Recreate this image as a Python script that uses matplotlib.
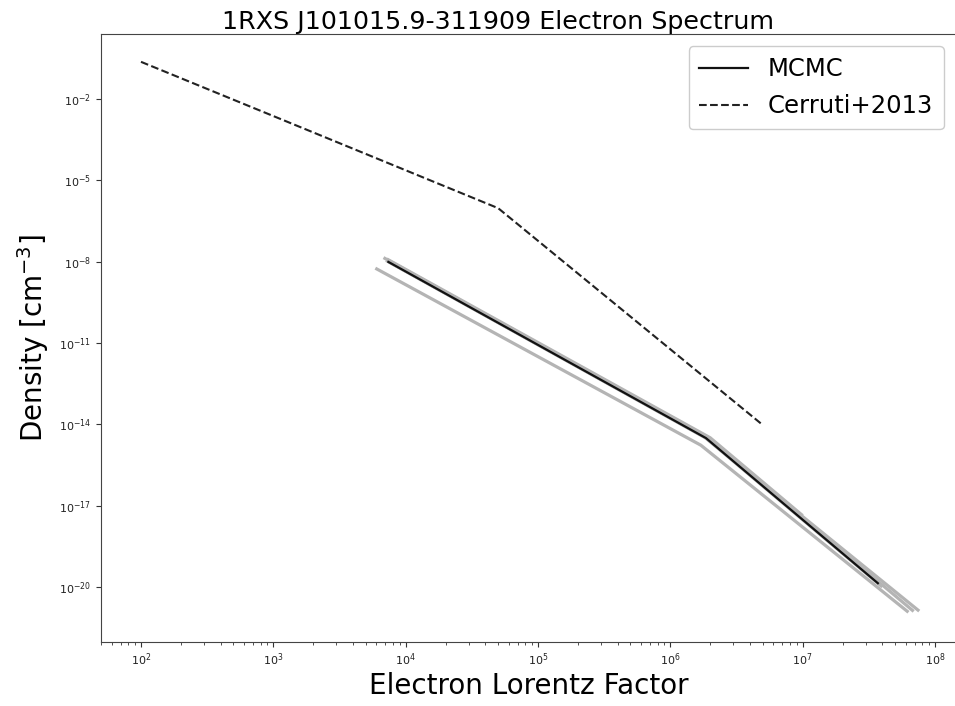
import numpy as np
import matplotlib
matplotlib.use("Agg")
import matplotlib.pyplot as plt
from matplotlib.ticker import LogLocator, NullLocator, FixedLocator

# Cerruti+2013 broken power law (gamma, density)
cerruti_gamma = [1e2, 5e4, 5e6]
cerruti_density = [0.235, 9.4e-7, 9.4e-15]

# MCMC best / median (gamma, density)
mcmc_gamma = [7.4e3, 1.86e6, 3.7e7]
mcmc_density = [9.8e-9, 3.1e-15, 1.38e-20]

# MCMC posterior samples (gamma, density) at gamma_min, gamma_break, gamma_max
sample_gamma = [
    [5.9e3, 1.7e6, 6.3e7],
    [6.8e3, 1.9e6, 6.9e7],
    [7.1e3, 1.8e6, 7.6e7],
    [7.2e3, 2.0e6, 1.0e7],
    [7.4e3, 1.86e6, 4.0e7],
]
sample_density = [
    [5.75e-9, 1.7e-15, 1.17e-21],
    [1.41e-8, 3.3e-15, 1.26e-21],
    [1.12e-8, 3.5e-15, 1.29e-21],
    [1.26e-8, 3.2e-15, 4.3e-18],
    [1.0e-8, 3.1e-15, 1.0e-20],
]

fig = plt.figure(figsize=(9.55, 7.06), dpi=100)
W, H = 955, 706
XR = 956
ax = fig.add_axes([101 / W, (H - 642) / H, (XR - 101) / W, (642 - 34) / H])

for g, d in zip(sample_gamma, sample_density):
    ax.plot(g, d, color="#b4b4b4", lw=2.3, solid_capstyle="butt")
ax.plot(mcmc_gamma, mcmc_density, color="#111111", lw=1.6, label="MCMC")
ax.plot(cerruti_gamma, cerruti_density, color="#222222", lw=1.5, ls="--", label="Cerruti+2013")

ax.set_xscale("log")
ax.set_yscale("log")
ppd = (935 - 141) / 6.0
ax.set_xlim(10 ** (2 - 40 / ppd), 10 ** (2 + (XR - 141) / ppd))
ppdy = (587 - 99) / 18.0
ax.set_ylim(10 ** (-20 - (642 - 587) / ppdy), 10 ** (-2 + (99 - 34) / ppdy))

ax.xaxis.set_major_locator(FixedLocator([1e2, 1e3, 1e4, 1e5, 1e6, 1e7, 1e8]))
ax.xaxis.set_minor_locator(LogLocator(base=10, subs=np.arange(2, 10), numticks=20))
ax.yaxis.set_major_locator(FixedLocator([10.0 ** k for k in (-2, -5, -8, -11, -14, -17, -20)]))
ax.yaxis.set_minor_locator(NullLocator())
ax.tick_params(axis="both", which="major", labelsize=8, colors="#333333", labelcolor="#222222")
ax.tick_params(axis="x", which="minor", colors="#333333")
for s in ax.spines.values():
    s.set_color("#444444")

title = ax.set_title("1RXS J101015.9-311909 Electron Spectrum", fontsize=18.3, pad=3)
title.set_x((498 - 101) / (XR - 101))
ax.set_xlabel("Electron Lorentz Factor", fontsize=20, labelpad=3)
ax.set_ylabel("Density [cm$^{-3}$]", fontsize=20, labelpad=6)

ax.legend(loc="upper right", fontsize=17.5, handlelength=2.0,
          framealpha=1.0, borderpad=0.45, labelspacing=0.55)

fig.savefig("out.png", dpi=100)
